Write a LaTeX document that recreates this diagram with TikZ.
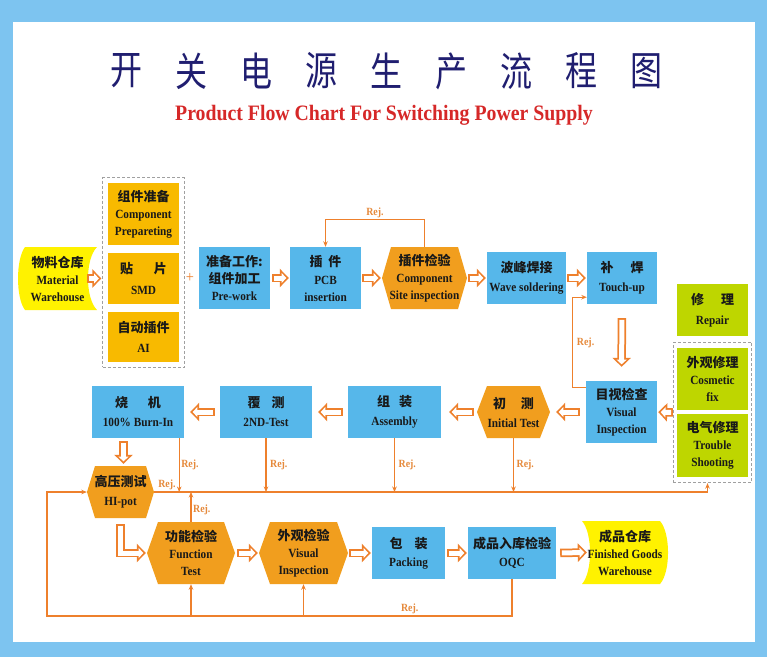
\documentclass[tikz,border=0pt]{standalone}
\usepackage{fontspec}
\setmainfont{Liberation Serif}[FakeStretch=0.9]
\newfontfamily\cjk{Noto Sans CJK SC}
\newfontfamily\cjkhead{Noto Sans CJK SC}[FakeStretch=0.8]
\usetikzlibrary{arrows.meta,fit,calc}

\definecolor{frameblue}{RGB}{125,196,240}
\definecolor{boxblue}{RGB}{86,183,234}
\definecolor{hexorange}{RGB}{241,158,30}
\definecolor{partyellow}{RGB}{248,186,0}
\definecolor{storeyellow}{RGB}{255,242,0}
\definecolor{repgreen}{RGB}{190,214,0}
\definecolor{lineorange}{RGB}{238,128,44}
\definecolor{rejtext}{RGB}{230,138,60}
\definecolor{titlenavy}{RGB}{32,30,112}
\definecolor{titlered}{RGB}{214,40,40}
\definecolor{txtdark}{RGB}{25,25,25}
\definecolor{dashgray}{RGB}{160,160,160}

\newcommand{\zh}[1]{{\cjk\bfseries\fontsize{13pt}{17pt}\selectfont#1}}

\tikzset{
  lbl/.style={font=\bfseries\fontsize{12.5pt}{17pt}\selectfont, text=txtdark, align=center, inner sep=0pt},
  bluebox/.style 2 args={lbl, fill=boxblue, minimum width=#1, minimum height=#2},
  partbox/.style 2 args={lbl, fill=partyellow, minimum width=#1, minimum height=#2},
  repbox/.style 2 args={lbl, fill=repgreen, minimum width=#1, minimum height=#2},
  hexbox/.style n args={3}{lbl, fill=white, minimum width=#1, minimum height=#2,
    path picture={\fill[hexorange] (path picture bounding box.west)
      -- ([xshift=#3]path picture bounding box.north west) -- ([xshift=-#3]path picture bounding box.north east)
      -- (path picture bounding box.east) -- ([xshift=-#3]path picture bounding box.south east)
      -- ([xshift=#3]path picture bounding box.south west) -- cycle;}},
  storeleft/.style 2 args={lbl, fill=white, minimum width=#1, minimum height=#2,
    path picture={\fill[storeyellow] ([xshift=7pt]path picture bounding box.north west)
      .. controls ([xshift=-2.3pt,yshift=-12pt]path picture bounding box.north west)
      and ([xshift=-2.3pt,yshift=12pt]path picture bounding box.south west)
      .. ([xshift=7pt]path picture bounding box.south west) -- (path picture bounding box.south east)
      .. controls ([xshift=-12pt,yshift=12pt]path picture bounding box.south east)
      and ([xshift=-12pt,yshift=-12pt]path picture bounding box.north east)
      .. (path picture bounding box.north east) -- cycle;}},
  storeright/.style 2 args={lbl, fill=white, minimum width=#1, minimum height=#2,
    path picture={\fill[storeyellow] (path picture bounding box.north west)
      .. controls ([xshift=10.7pt,yshift=-12pt]path picture bounding box.north west)
      and ([xshift=10.7pt,yshift=12pt]path picture bounding box.south west)
      .. (path picture bounding box.south west) -- ([xshift=-8pt]path picture bounding box.south east)
      .. controls ([xshift=2.7pt,yshift=12pt]path picture bounding box.south east)
      and ([xshift=2.7pt,yshift=-12pt]path picture bounding box.north east)
      .. ([xshift=-8pt]path picture bounding box.north east) -- cycle;}},
  grpbox/.style={draw=dashgray, line width=0.9pt, dash pattern=on 3pt off 2pt, inner sep=5pt},
  hollow/.style 2 args={draw=white, line width=5pt, line join=miter,
    shorten <=#1+1.75pt, shorten >=#2+2.5pt, -{Triangle[length=4.75pt,width=10pt]},
    preaction={draw=lineorange, line width=8.5pt, line join=miter,
      shorten <=#1, shorten >=#2, -{Triangle[length=9pt,width=18pt]}}},
  rejline/.style={draw=lineorange, line width=1.2pt},
  rejarrow/.style={rejline, -{Stealth[length=5.5pt,width=4.5pt]}},
  rejlab/.style={font=\bfseries\fontsize{11pt}{13pt}\selectfont, text=rejtext, inner sep=1.5pt},
  headchar/.style={font=\cjkhead\fontsize{40pt}{42pt}\selectfont, text=titlenavy, inner sep=0pt},
  subhead/.style={font=\bfseries\fontsize{22pt}{24pt}\selectfont, text=titlered, inner sep=0pt},
  plus/.style={font=\fontsize{16pt}{16pt}\selectfont, text=lineorange, inner sep=0pt}
}

\begin{document}
\begin{tikzpicture}[x=1pt,y=1pt]

	\fill[frameblue] (0,0) rectangle (767,-657);
	\fill[white] (13,-22) rectangle (755,-642);
	\useasboundingbox (0,0) rectangle (767,-657);

	% title
	\foreach \ch [count=\i from 0] in {开,关,电,源,生,产,流,程,图}
		\node[headchar] (t\i) at (126+65*\i,-71) {\ch};
	\node[subhead] (sub) at (384,-115) {Product Flow Chart For Switching Power Supply};

	% first row
	\node[storeleft={79pt}{63pt}] (mat) at (57.5,-278.5) {\zh{物料仓库}\\Material\\Warehouse};
	\node[partbox={71pt}{62pt}] (cp)  at (143.5,-214)   {\zh{组件准备}\\Component\\Prepareting};
	\node[partbox={71pt}{51pt}] (smd) at (143.5,-278.5) {\zh{贴\hspace{21pt}片}\\[4pt]SMD};
	\node[partbox={71pt}{50pt}] (ai)  at (143.5,-337)   {\zh{自动插件}\\[3pt]AI};
	\node[grpbox, fit=(cp)(ai)] (parts) {};
	\node[plus] (pl) at (190,-278) {+};
	\node[bluebox={71pt}{62pt}] (pre) at (234.5,-278) {\zh{准备工作:}\\\zh{组件加工}\\Pre-work};
	\node[bluebox={71pt}{62pt}] (pcb) at (325.5,-278) {\zh{插\hspace{6pt}件}\\[1pt]PCB\\insertion};
	\node[hexbox={85pt}{62pt}{9pt}] (csi) at (424.5,-278) {\zh{插件检验}\\Component\\Site inspection};
	\node[bluebox={79pt}{52pt}] (wave)  at (526.5,-278) {\zh{波峰焊接}\\[2pt]Wave soldering};
	\node[bluebox={70pt}{52pt}] (touch) at (622,-278)   {\zh{补\hspace{17pt}焊}\\[2pt]Touch-up};

	% repair
	\node[repbox={71pt}{52pt}] (repair) at (712.5,-310)   {\zh{修\hspace{17pt}理}\\[3pt]Repair};
	\node[repbox={71pt}{62pt}] (cos)    at (712.5,-379)   {\zh{外观修理}\\Cosmetic\\fix};
	\node[repbox={71pt}{63pt}] (trbl)   at (712.5,-445.5) {\zh{电气修理}\\Trouble\\Shooting};
	\node[grpbox, fit=(cos)(trbl), inner xsep=3.5pt, inner ysep=5.5pt] (rgrp) {};

	% second row
	\node[bluebox={71pt}{62pt}] (vis)    at (621.5,-412) {\zh{目视检查}\\Visual\\Inspection};
	\node[hexbox={73pt}{52pt}{10pt}] (init) at (513.5,-412) {\zh{初\hspace{15pt}测}\\[2pt]Initial Test};
	\node[bluebox={93pt}{52pt}] (asm)    at (394.5,-412) {\zh{组\hspace{9pt}装}\\[2pt]Assembly};
	\node[bluebox={92pt}{52pt}] (retest) at (266,-412)   {\zh{覆\hspace{11pt}测}\\[2pt]2ND-Test};
	\node[bluebox={92pt}{52pt}] (burn)   at (138,-412)   {\zh{烧\hspace{20pt}机}\\[2pt]100\% Burn-In};
	\node[hexbox={67pt}{52pt}{8pt}] (hipot) at (120.5,-492) {\zh{高压测试}\\[2pt]HI-pot};

	% third row
	\node[hexbox={88pt}{62pt}{11pt}] (func) at (191,-553)   {\zh{功能检验}\\Function\\Test};
	\node[hexbox={89pt}{62pt}{11pt}] (visb) at (303.5,-553) {\zh{外观检验}\\Visual\\Inspection};
	\node[bluebox={73pt}{52pt}] (pack) at (408.5,-553) {\zh{包\hspace{12pt}装}\\[1pt]Packing};
	\node[bluebox={88pt}{52pt}] (oqc)  at (512,-553)   {\zh{成品入库检验}\\[1pt]OQC};
	\node[storeright={86pt}{63pt}] (fin) at (625,-552.5) {\zh{成品仓库}\\Finished Goods\\Warehouse};

	% flow
	\draw[hollow={0pt}{1pt}] ([xshift=-10pt]mat.east) -- (parts.west |- mat.east);
	\draw[hollow={2pt}{1pt}] (pre.east) -- (pcb.west);
	\draw[hollow={1pt}{1pt}] (pcb.east) -- (csi.west);
	\draw[hollow={1pt}{1pt}] (csi.east) -- (wave.west);
	\draw[hollow={1pt}{1pt}] (wave.east) -- (touch.west);
	\draw[hollow={14pt}{14pt}] (touch.south) -- (vis.north);
	\draw[hollow={0pt}{1pt}] (rgrp.west) -- (vis.east);
	\draw[hollow={6pt}{6pt}] (vis.west) -- (init.east);
	\draw[hollow={3pt}{8pt}] (init.west) -- (asm.east);
	\draw[hollow={5pt}{6pt}] (asm.west) -- (retest.east);
	\draw[hollow={5pt}{6pt}] (retest.west) -- (burn.east);
	\draw[hollow={3pt}{2pt}] ([xshift=3pt]hipot.north |- burn.south) -- ([xshift=3pt]hipot.north);
	\draw[hollow={6pt}{1pt}] (hipot.south) |- (func.west);
	\draw[hollow={2pt}{1pt}] (func.east) -- (visb.west);
	\draw[hollow={1pt}{1pt}] (visb.east) -- (pack.west);
	\draw[hollow={2pt}{1pt}] (pack.east) -- (oqc.west);
	\draw[hollow={4pt}{0pt}] (oqc.east) -- ([xshift=5pt]fin.west);

	% rejects
	\draw[rejarrow] (csi.north) -- ++(0,27) -| node[rejlab, above, pos=0.25] {Rej.} (pcb.north);
	\draw[rejarrow] ([yshift=-7pt]vis.north west) -- ++(-13,0)
		|- node[rejlab, right, pos=0.25, xshift=2pt] {Rej.} ([yshift=7pt]touch.south west);
	\draw[rejarrow] ([xshift=-5pt]burn.south east) -- node[rejlab, right] {Rej.} ([xshift=-5pt]burn.south east |- hipot.east);
	\draw[rejarrow] (retest.south) -- node[rejlab, right, xshift=2pt] {Rej.} (retest.south |- hipot.east);
	\draw[rejarrow] (asm.south) -- node[rejlab, right, xshift=2pt] {Rej.} (asm.south |- hipot.east);
	\draw[rejarrow] (init.south) -- node[rejlab, right, xshift=1pt] {Rej.} (init.south |- hipot.east);
	\draw[rejarrow] (hipot.east) -| node[rejlab, above right, pos=0, xshift=2pt] {Rej.} ([xshift=-5pt]rgrp.south);
	\draw[rejarrow] (func.north) -- node[rejlab, right, pos=0.4] {Rej.} (func.north |- hipot.east);

	\coordinate (corner) at (47,-616);
	\draw[rejarrow] (oqc.south) |- node[rejlab, above, pos=0.61] {Rej.} (corner) |- (hipot.west);
	\draw[rejarrow] (func.south |- corner) -- (func.south);
	\draw[rejarrow] (visb.south |- corner) -- (visb.south);

\end{tikzpicture}
\end{document}
